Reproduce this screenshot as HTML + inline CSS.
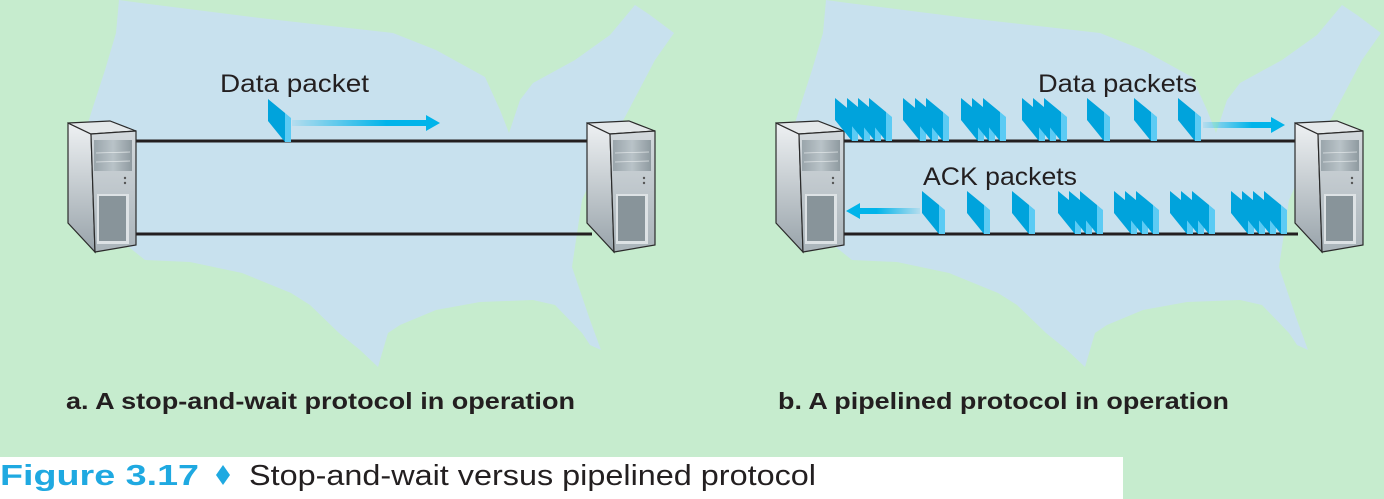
<!DOCTYPE html>
<html><head><meta charset="utf-8"><style>
html,body{margin:0;padding:0;background:#c6ecce;}
svg{display:block}
</style></head><body>
<svg width="1384" height="499" viewBox="0 0 1384 499" xmlns="http://www.w3.org/2000/svg">
<defs>
<linearGradient id="ar" x1="0" x2="1"><stop offset="0" stop-color="#00b4ea" stop-opacity="0.1"/><stop offset="0.7" stop-color="#00b4ea"/><stop offset="1" stop-color="#00b4ea"/></linearGradient>
<linearGradient id="al" x1="1" x2="0"><stop offset="0" stop-color="#00b4ea" stop-opacity="0.1"/><stop offset="0.7" stop-color="#00b4ea"/><stop offset="1" stop-color="#00b4ea"/></linearGradient>
<linearGradient id="side" x1="0" y1="0" x2="0" y2="1"><stop offset="0" stop-color="#eef1f3"/><stop offset="1" stop-color="#98a3aa"/></linearGradient>
<linearGradient id="front" x1="0" y1="0" x2="0" y2="1"><stop offset="0" stop-color="#d3d9dd"/><stop offset="1" stop-color="#aab4ba"/></linearGradient>
<linearGradient id="bay" x1="0" x2="1"><stop offset="0" stop-color="#9aa5ab"/><stop offset="0.5" stop-color="#b9c3c8"/><stop offset="1" stop-color="#8f9aa0"/></linearGradient>
<g id="pk">
<polygon points="0,0 17,14 17,43 0,22" fill="#00a3dc"/>
<polygon points="17,14 23,19 23,43 17,43" fill="#5ccbf4"/>
</g>
<g id="sv">
<polygon points="0,2 23,13 27,131 0,102" fill="url(#side)" stroke="#2b2b2b" stroke-width="1.2"/>
<polygon points="0,2 42,0 68,10 23,13" fill="#e4e8ea" stroke="#2b2b2b" stroke-width="1.2"/>
<polygon points="23,13 68,10 68,124 27,131" fill="url(#front)" stroke="#2b2b2b" stroke-width="1.2"/>
<rect x="26" y="19" width="38" height="31" fill="url(#bay)"/>
<line x1="28" y1="32" x2="62" y2="31" stroke="#dfe4e6" stroke-width="0.8"/>
<line x1="28" y1="41" x2="62" y2="40" stroke="#dfe4e6" stroke-width="0.8"/>
<circle cx="57" cy="57" r="1.2" fill="#555"/><circle cx="57" cy="62" r="1.2" fill="#555"/>
<rect x="29" y="73" width="32" height="50" fill="#dde2e5"/>
<rect x="31" y="75" width="27" height="45" fill="#88949a"/>
</g>
<path id="map" d="M119,0 L141,3 L260,18 L393,33 L436,50 L485,77 L500,110 L509,133 L520,100 L533,83 L575,60 L610,35 L635,5 L650,15 L674,33 L655,60 L625,117 L600,160 L582,200 L572,267 L590,320 L601,350 L590,345 L582,333 L555,305 L533,300 L480,302 L436,310 L400,325 L388,333 L378,367 L360,350 L339,333 L310,305 L291,293 L242,273 L190,262 L145,260 L120,240 L90,200 L85,133 L92,110 L105,70 L116,33 Z" fill="#c8e1ee"/>
</defs>
<rect width="1384" height="499" fill="#c6ecce"/>
<use href="#map"/>
<use href="#map" transform="translate(707,0)"/>
<rect x="0" y="457" width="1123" height="42" fill="#ffffff"/>

<!-- Panel a -->
<line x1="130" y1="141" x2="592" y2="141" stroke="#231f20" stroke-width="3"/>
<line x1="130" y1="234" x2="592" y2="234" stroke="#231f20" stroke-width="3"/>
<use href="#sv" transform="translate(68,121)"/>
<use href="#sv" transform="translate(587,121)"/>
<use href="#pk" transform="translate(268,99)"/>
<rect x="292" y="120" width="135" height="6" fill="url(#ar)"/>
<polygon points="426,115 440,123 426,131" fill="#00b4ea"/>
<text x="220" y="92" font-family="Liberation Sans, sans-serif" font-size="25" fill="#231f20" textLength="149" lengthAdjust="spacingAndGlyphs">Data packet</text>

<!-- Panel b -->
<line x1="838" y1="141" x2="1298" y2="141" stroke="#231f20" stroke-width="3"/>
<line x1="838" y1="234" x2="1298" y2="234" stroke="#231f20" stroke-width="3"/>
<use href="#sv" transform="translate(776,121)"/>
<use href="#sv" transform="translate(1295,121)"/>
<g transform="translate(0,98)">
<use href="#pk" x="835"/><use href="#pk" x="847"/><use href="#pk" x="858"/><use href="#pk" x="869"/>
<use href="#pk" x="903"/><use href="#pk" x="915"/><use href="#pk" x="926"/>
<use href="#pk" x="961"/><use href="#pk" x="972"/><use href="#pk" x="983"/>
<use href="#pk" x="1022"/><use href="#pk" x="1033"/><use href="#pk" x="1044"/>
<use href="#pk" x="1087"/><use href="#pk" x="1134"/><use href="#pk" x="1178"/>
</g>
<g transform="translate(0,191)">
<use href="#pk" x="922"/><use href="#pk" x="967"/><use href="#pk" x="1012"/>
<use href="#pk" x="1058"/><use href="#pk" x="1069"/><use href="#pk" x="1080"/>
<use href="#pk" x="1114"/><use href="#pk" x="1125"/><use href="#pk" x="1136"/>
<use href="#pk" x="1170"/><use href="#pk" x="1181"/><use href="#pk" x="1192"/>
<use href="#pk" x="1231"/><use href="#pk" x="1242"/><use href="#pk" x="1253"/><use href="#pk" x="1264"/>
</g>
<rect x="1203" y="122" width="70" height="6" fill="url(#ar)"/>
<polygon points="1271,117 1285,125 1271,133" fill="#00b4ea"/>
<rect x="858" y="208" width="62" height="6" fill="url(#al)"/>
<polygon points="860,203 846,211 860,219" fill="#00b4ea"/>
<text x="1038" y="92" font-family="Liberation Sans, sans-serif" font-size="25" fill="#231f20" textLength="159" lengthAdjust="spacingAndGlyphs">Data packets</text>
<text x="923" y="185" font-family="Liberation Sans, sans-serif" font-size="25" fill="#231f20" textLength="154" lengthAdjust="spacingAndGlyphs">ACK packets</text>

<!-- captions -->
<text x="66" y="409" font-family="Liberation Sans, sans-serif" font-weight="bold" font-size="23" fill="#231f20" textLength="509" lengthAdjust="spacingAndGlyphs">a. A stop-and-wait protocol in operation</text>
<text x="778" y="409" font-family="Liberation Sans, sans-serif" font-weight="bold" font-size="23" fill="#231f20" textLength="451" lengthAdjust="spacingAndGlyphs">b. A pipelined protocol in operation</text>
<text x="0" y="485" font-family="Liberation Sans, sans-serif" font-weight="bold" font-size="29" fill="#1fa9e1" textLength="199" lengthAdjust="spacingAndGlyphs">Figure 3.17</text>
<polygon points="223,465 230,475 223,485 216,475" fill="#1fa9e1"/>
<text x="249" y="485" font-family="Liberation Sans, sans-serif" font-size="29" fill="#231f20" textLength="567" lengthAdjust="spacingAndGlyphs">Stop-and-wait versus pipelined protocol</text>
</svg>
</body></html>
